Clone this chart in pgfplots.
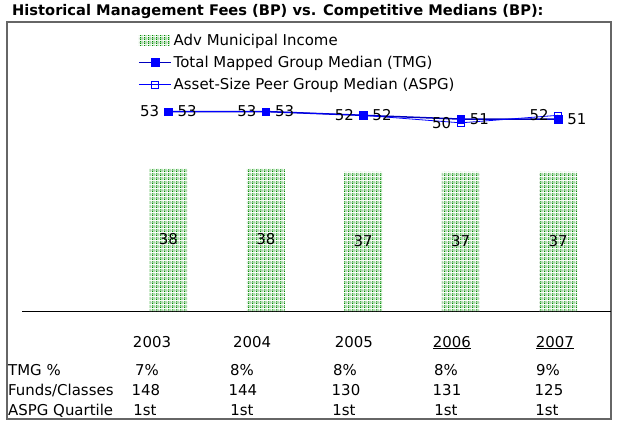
\documentclass[border=0pt]{standalone}
\usepackage{pgfplots}
\pgfplotsset{compat=1.18}
\usepackage{fontspec}
\setmainfont{DejaVu Sans}
\usetikzlibrary{patterns}
\definecolor{barlight}{RGB}{238,248,238}
\definecolor{barmid}{RGB}{70,185,70}
\definecolor{bargreen}{RGB}{0,140,0}
\definecolor{bargrey}{RGB}{170,190,170}
\definecolor{tmgline}{RGB}{0,0,190}
\pgfdeclarepatterninherentlycolored{greendots}{\pgfpointorigin}{\pgfpoint{4bp}{4bp}}{\pgfpoint{4bp}{4bp}}{%
  \pgfsetfillcolor{barlight}\pgfpathrectangle{\pgfpointorigin}{\pgfpoint{4bp}{4bp}}\pgfusepath{fill}%
  \pgfsetfillcolor{bargreen}\pgfpathrectangle{\pgfpoint{0bp}{0bp}}{\pgfpoint{1bp}{1.3bp}}\pgfusepath{fill}%
  \pgfpathrectangle{\pgfpoint{0bp}{2bp}}{\pgfpoint{1bp}{1.3bp}}\pgfusepath{fill}%
  \pgfsetfillcolor{barmid}\pgfpathrectangle{\pgfpoint{2bp}{0bp}}{\pgfpoint{1bp}{4bp}}\pgfusepath{fill}%
  \pgfsetfillcolor{bargrey}\pgfpathrectangle{\pgfpoint{3bp}{1bp}}{\pgfpoint{1bp}{1bp}}\pgfusepath{fill}%
}
\pgfplotsset{
  my line legend/.style={legend image code/.code={\draw[mark repeat=2,mark phase=2,##1] plot coordinates {(0bp,0bp)(16bp,0bp)(32bp,0bp)};}},
  my bar legend/.style={legend image code/.code={\fill[pattern=greendots] (0bp,-5bp) rectangle (31bp,5bp);}},
}
\begin{document}
\begin{tikzpicture}[font=\fontsize{15}{17}\selectfont]
\useasboundingbox (0,0) rectangle (620bp,-424bp);
\draw[line width=1.2bp, black!60] (7bp,-22bp) rectangle (611bp,-419bp);
\node[anchor=west, inner sep=0pt, font=\bfseries\fontsize{14.7}{17}\selectfont] at (12bp,-12bp) {Historical Management Fees (BP) vs. Competitive Medians (BP):};
\begin{axis}[
  at={(22bp,-311bp)}, anchor=south west, scale only axis,
  width=589bp, height=225.8bp,
  xmin=-1.504, xmax=4.544, ymin=0, ymax=60,
  axis y line=none, axis x line=bottom,
  x axis line style={-, line width=1bp, black},
  xtick={-0.169,0.858,1.905,2.911,3.968},
  xticklabels={2003,2004,2005,\underline{2006},\underline{2007}},
  major tick length=0pt,
  xticklabel style={anchor=base, yshift=-36bp, font=\fontsize{15}{17}\selectfont},
  /pgf/number format/assume math mode=true,
  clip=false,
  legend style={at={(0.197,1.238)}, anchor=north west, draw=none, fill=none, inner sep=0pt, row sep=5.5bp,
    nodes={inner sep=2bp, font=\fontsize{15}{17}\selectfont}},
  legend cell align=left,
]
\addplot[ybar, bar width=38bp, draw=none, pattern=greendots, my bar legend]
  coordinates {(0,38)(1,38)(2,37)(3,37)(4,37)};
\addlegendentry{Adv Municipal Income}
\addplot[color=tmgline, line width=1.5bp, mark=square*, mark size=3.8bp,
  mark options={fill=blue, draw=blue, line width=0.5bp},
  nodes near coords, nodes near coords style={anchor=west, xshift=8bp, inner sep=1bp, text=black},
  my line legend]
  coordinates {(0,53)(1,53)(2,52)(3,51)(4,51)};
\addlegendentry{Total Mapped Group Median (TMG)}
\addplot[color=blue, line width=0.8bp, mark=square, mark size=3.3bp,
  mark options={fill=white, draw=blue, line width=0.8bp},
  nodes near coords, nodes near coords style={anchor=east, xshift=-8bp, inner sep=1bp, text=black},
  my line legend]
  coordinates {(0,53)(1,53)(2,52)(3,50)(4,52)};
\addlegendentry{Asset-Size Peer Group Median (ASPG)}
\addplot[draw=none, mark=none, forget plot, nodes near coords, point meta=explicit symbolic,
  nodes near coords style={anchor=center, text=black}]
  coordinates {(0,19)[38] (1,19)[38] (2,18.5)[37] (3,18.5)[37] (4,18.5)[37]};
\end{axis}
\node[anchor=base west, inner sep=0pt] at (8bp,-375bp) {TMG \%};
\node[anchor=base west, inner sep=0pt] at (8bp,-395bp) {Funds/Classes};
\node[anchor=base west, inner sep=0pt] at (8bp,-415bp) {ASPG Quartile};
\foreach \v/\xx in {7\%/147, 8\%/242, 8\%/345, 8\%/446, 9\%/548}
  \node[anchor=base, inner sep=0pt] at (\xx bp,-375bp) {\v};
\foreach \v/\xx in {148/146, 144/243, 130/346, 131/447, 125/549}
  \node[anchor=base, inner sep=0pt] at (\xx bp,-395bp) {\v};
\foreach \xx in {145,242,344,446,547}
  \node[anchor=base, inner sep=0pt] at (\xx bp,-415bp) {1st};
\end{tikzpicture}
\end{document}
